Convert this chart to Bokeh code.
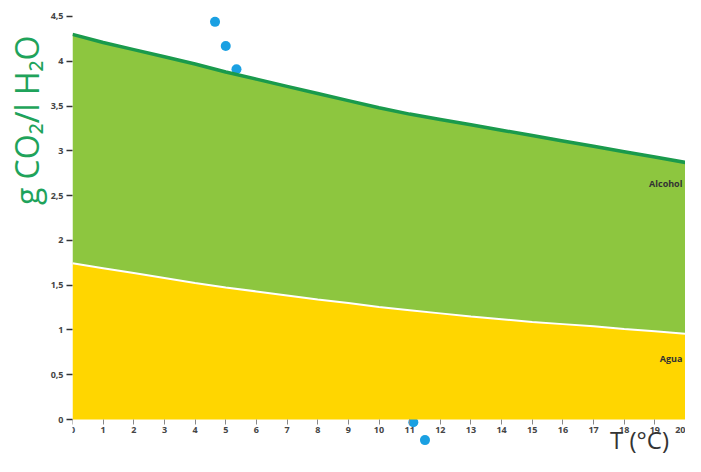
from bokeh.plotting import figure
from bokeh.models import Range1d, FixedTicker, Label
from bokeh.embed import file_html
from bokeh.resources import INLINE

# Data
temps = list(range(21))
alcohol = [4.30, 4.21, 4.13, 4.05, 3.97, 3.88, 3.80, 3.72, 3.64, 3.56, 3.48,
           3.41, 3.35, 3.29, 3.23, 3.17, 3.11, 3.05, 2.99, 2.93, 2.87]
agua = [1.745, 1.69, 1.635, 1.58, 1.525, 1.475, 1.43, 1.385, 1.34, 1.30, 1.255,
        1.22, 1.185, 1.15, 1.12, 1.09, 1.065, 1.04, 1.01, 0.985, 0.957]
dots_x = [4.65, 5.0, 5.35, 11.12, 11.5, 11.92]
dots_y = [4.44, 4.17, 3.91, -0.03, -0.23, -0.49]
y_ticks = [0, 0.5, 1, 1.5, 2, 2.5, 3, 3.5, 4, 4.5]
y_tick_labels = ["0", "0,5", "1", "1,5", "2", "2,5", "3", "3,5", "4", "4,5"]
x_ticks = list(range(21))
series_labels = ["Alcohol", "Agua"]
series_label_y = [2.63, 0.68]

p = figure(width=685, height=456, output_backend="svg", toolbar_location=None,
           x_range=Range1d(0, 20), y_range=Range1d(-0.413, 4.656),
           min_border_left=72, min_border_right=0, min_border_top=2,
           min_border_bottom=0, title="g CO₂/l H₂O", title_location="left")
p.outline_line_color = None
p.grid.visible = False
p.background_fill_color = "white"
p.border_fill_color = "white"

p.title.align = "right"
p.title.offset = 33
p.title.text_font = "Open Sans"
p.title.text_font_size = "32px"
p.title.text_font_style = "normal"
p.title.text_color = "#1fa35b"
p.title.standoff = 0

p.scatter(dots_x, dots_y, size=10, color="#1aa0e2", line_color=None)
p.varea(x=temps, y1=[0] * len(temps), y2=agua, fill_color="#FFD600")
p.varea(x=temps, y1=agua, y2=alcohol, fill_color="#8DC63F")
p.line(temps, alcohol, line_color="#1a9a4c", line_width=3.5)
p.line(temps, agua, line_color="white", line_width=2)

for t, yy in zip(series_labels, series_label_y):
    p.add_layout(Label(x=19.9, y=yy, text=t, text_align="right",
                       text_baseline="middle", text_font_size="9px",
                       text_font_style="bold", text_color="#333333",
                       text_font="Open Sans"))

# x-axis title
p.add_layout(Label(x=18.5, y=-0.412, text="T (°C)", text_align="center",
                   text_baseline="bottom", text_font_size="24px",
                   text_color="#333333", text_font="Open Sans"))

xa = p.xaxis[0]
xa.fixed_location = 0
xa.ticker = FixedTicker(ticks=x_ticks)
xa.axis_line_color = None
xa.major_tick_out = 5
xa.major_tick_in = 0
xa.major_tick_line_color = "#888888"
xa.minor_tick_line_color = None
xa.major_label_standoff = 2
xa.major_label_text_font_size = "9px"
xa.major_label_text_font = "Open Sans"
xa.major_label_text_font_style = "bold"
xa.major_label_text_color = "#444444"

ya = p.yaxis[0]
ya.ticker = FixedTicker(ticks=y_ticks)
ya.major_label_overrides = {t: l for t, l in zip(y_ticks, y_tick_labels)}
ya.axis_line_color = None
ya.major_tick_out = 6
ya.major_tick_in = 0
ya.major_tick_line_color = "#333333"
ya.major_tick_line_width = 1.5
ya.minor_tick_line_color = None
ya.major_label_standoff = 3
ya.major_label_text_font_size = "9px"
ya.major_label_text_font = "Open Sans"
ya.major_label_text_font_style = "bold"
ya.major_label_text_color = "#444444"

open("out.html", "w").write(file_html(p, INLINE))
